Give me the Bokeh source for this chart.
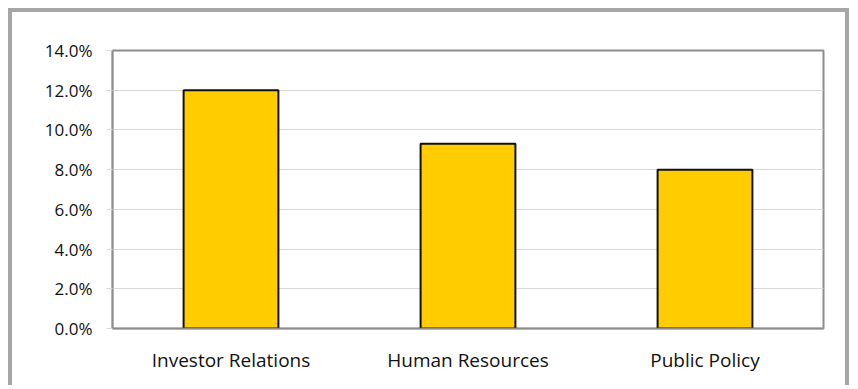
from bokeh.plotting import figure
from bokeh.models import PrintfTickFormatter, FixedTicker, Range1d
from bokeh.embed import file_html
from bokeh.resources import INLINE

# Share of respondents by function (percent)
categories = ["Investor Relations", "Human Resources", "Public Policy"]
values = [12.0, 9.3, 8.0]
y_ticks = [0, 2, 4, 6, 8, 10, 12, 14]

FONT = "Open Sans"
TEXT = "#111111"

p = figure(
    x_range=categories,
    y_range=Range1d(0, 14),
    width=841,
    height=377,
    output_backend="svg",
    toolbar_location=None,
    min_border_left=100,
    min_border_top=38,
    min_border_right=30,
    min_border_bottom=61,
    background_fill_color="white",
    border_fill_color="white",
    styles={
        "margin-left": "8px",
        "margin-top": "8px",
        "border-top": "4px solid #a6a6a6",
        "border-left": "4px solid #a6a6a6",
        "border-right": "4px solid #a6a6a6",
    },
)

p.vbar(x=categories, top=values, width=0.4,
       fill_color="#ffcc00", line_color="#111111", line_width=2)

p.outline_line_color = "#8c8c8c"
p.outline_line_width = 2

p.xgrid.grid_line_color = None
p.ygrid.grid_line_color = "#d9d9d9"
p.ygrid.grid_line_width = 1

p.yaxis.ticker = FixedTicker(ticks=y_ticks)
p.yaxis.formatter = PrintfTickFormatter(format="%.1f%%")
p.yaxis.axis_line_color = "#8c8c8c"
p.yaxis.axis_line_width = 1.5
p.yaxis.major_tick_line_color = "#d9d9d9"
p.yaxis.major_tick_out = 6
p.yaxis.major_tick_in = 0
p.yaxis.minor_tick_line_color = None
p.yaxis.major_label_standoff = 14
p.yaxis.major_label_text_font_size = "17px"

p.xaxis.axis_line_color = "#8c8c8c"
p.xaxis.axis_line_width = 1.5
p.xaxis.major_tick_line_color = None
p.xaxis.major_label_standoff = 12
p.xaxis.major_label_text_font_size = "19px"

for ax in (p.xaxis[0], p.yaxis[0]):
    ax.major_label_text_font = FONT
    ax.major_label_text_color = TEXT

open("out.html", "w").write(file_html(p, INLINE))
